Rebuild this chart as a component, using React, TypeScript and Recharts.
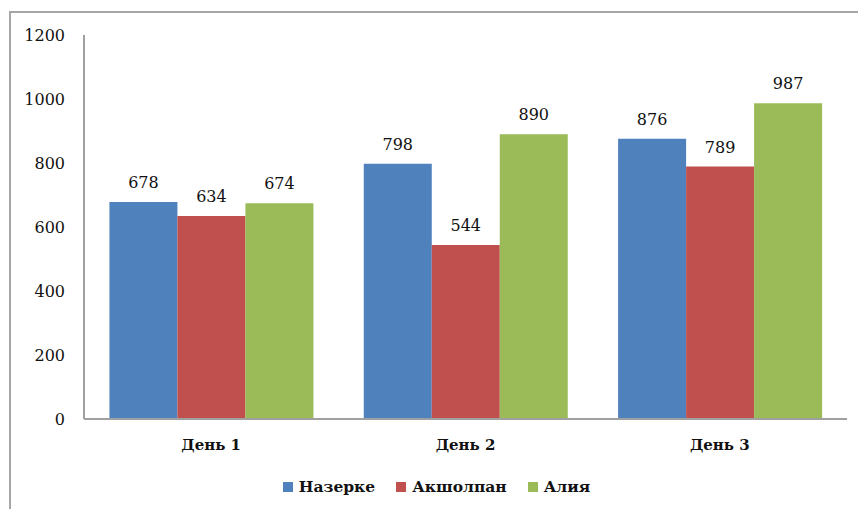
import React from "react";
import { BarChart, Bar, XAxis, YAxis, Legend, LabelList } from "recharts";

const categories = ["День 1", "День 2", "День 3"];
const nazerke = [678, 798, 876];
const aksholpan = [634, 544, 789];
const aliya = [674, 890, 987];
const yTicks = [0, 200, 400, 600, 800, 1000, 1200];

const data = categories.map((c, i) => ({
  name: c,
  s1: nazerke[i],
  s2: aksholpan[i],
  s3: aliya[i],
}));

const FONT = "'DejaVu Serif', serif";
const labelStyle = { fontFamily: FONT, fontSize: 16, fill: "#111" };

const renderLegend = (props: any) => {
  const payload = props.payload || [];
  return (
    <div style={{ display: "flex", justifyContent: "center", paddingLeft: 26, lineHeight: "24px" }}>
      {payload.map((p: any, i: number) => (
        <div key={i} style={{ display: "flex", alignItems: "center", marginRight: i < payload.length - 1 ? 21 : 0 }}>
          <span style={{ display: "inline-block", width: 10, height: 10, background: p.color, marginRight: 6 }} />
          <span style={{ color: "#111", fontFamily: FONT, fontSize: 15.5, fontWeight: "bold" }}>{p.value}</span>
        </div>
      ))}
    </div>
  );
};

export default function App() {
  return (
    <div style={{ position: "absolute", left: 0, top: 0, width: 858, height: 509, background: "#fff", overflow: "hidden" }}>
      <div
        style={{
          position: "absolute",
          left: 9,
          top: 11,
          width: 900,
          height: 600,
          borderLeft: "2px solid #a6a6a6",
          borderTop: "2px solid #a6a6a6",
          boxSizing: "border-box",
        }}
      />
      <div style={{ position: "absolute", left: 0, top: 0 }}>
        <BarChart
          width={858}
          height={509}
          data={data}
          margin={{ top: 35, right: 11, left: 0, bottom: 10 }}
          barCategoryGap="10%"
          barGap={0}
        >
          <XAxis
            dataKey="name"
            tickLine={false}
            tickSize={0}
            tickMargin={20}
            height={56}
            axisLine={{ stroke: "#a0a0a0", strokeWidth: 2 }}
            tick={{ fontFamily: FONT, fontSize: 15, fill: "#111", fontWeight: "bold" }}
          />
          <YAxis
            width={84}
            domain={[0, 1200]}
            ticks={yTicks}
            tickLine={false}
            tickSize={0}
            tickMargin={19}
            axisLine={{ stroke: "#a0a0a0", strokeWidth: 2 }}
            tick={{ fontFamily: FONT, fontSize: 16, fill: "#111" }}
          />
          <Legend verticalAlign="bottom" align="center" itemSorter="dataKey" content={renderLegend} />
          <Bar dataKey="s1" name="Назерке" fill="#4F81BD" isAnimationActive={false}>
            <LabelList dataKey="s1" position="top" offset={14} style={labelStyle} />
          </Bar>
          <Bar dataKey="s2" name="Акшолпан" fill="#C0504D" isAnimationActive={false}>
            <LabelList dataKey="s2" position="top" offset={14} style={labelStyle} />
          </Bar>
          <Bar dataKey="s3" name="Алия" fill="#9BBB59" isAnimationActive={false}>
            <LabelList dataKey="s3" position="top" offset={14} style={labelStyle} />
          </Bar>
        </BarChart>
      </div>
    </div>
  );
}
